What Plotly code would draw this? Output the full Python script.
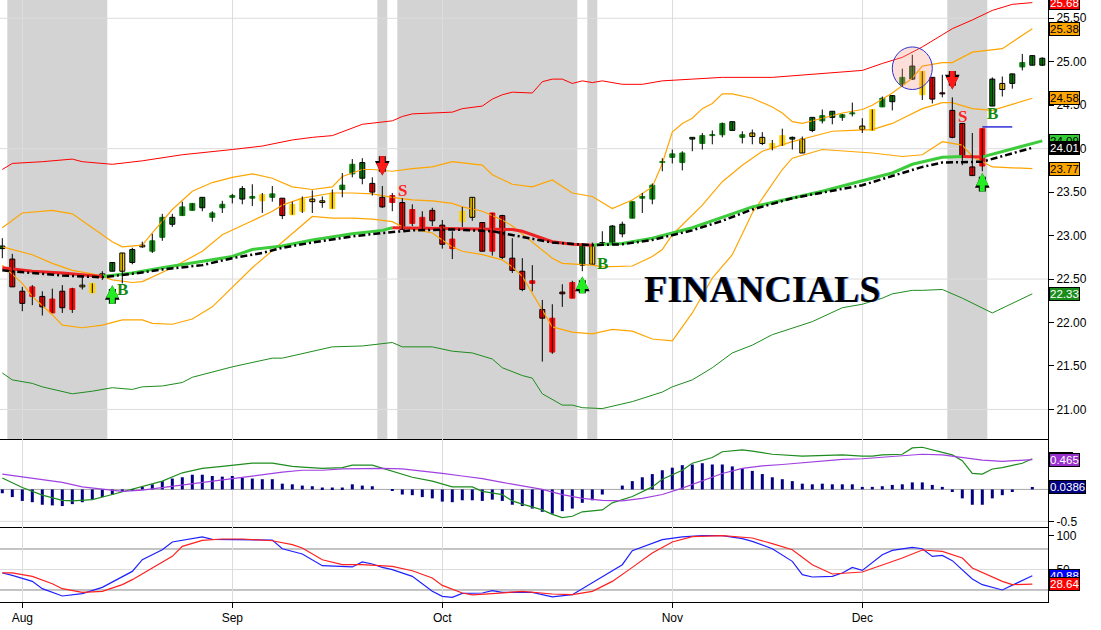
"""FINANCIALS daily chart (Plotly).

Candles with Bollinger bands, envelopes and moving averages on top,
MACD in the middle panel and a stochastic in the bottom panel.
"""
import pandas as pd
import plotly.graph_objects as go
from plotly.subplots import make_subplots

FONT = "Arial, Liberation Sans, sans-serif"
SERIF = "Times New Roman, Liberation Serif, serif"

# ---------------------------------------------------------------- data
HOLIDAYS = ["2014-09-01", "2014-11-27", "2014-12-25"]
dates = pd.bdate_range("2014-07-30", "2014-12-26", freq="C", holidays=HOLIDAYS)

opens = [22.88, 22.73, 22.36, 22.30, 22.30, 22.11, 22.36, 22.15, 22.43, 22.34,
         22.56, 22.69, 22.80, 22.84, 22.89, 22.82, 22.98, 23.21, 23.23, 23.29,
         23.44, 23.21, 23.32, 23.44, 23.54, 23.43, 23.40, 23.44, 23.43, 23.24,
         23.28, 23.42, 23.40, 23.31, 23.53, 23.71, 23.84, 23.60, 23.44, 23.38,
         23.38, 23.14, 23.08, 23.29, 23.12, 22.85, 23.16, 23.44, 23.15, 22.82,
         23.23, 22.74, 22.59, 22.45, 22.15, 21.66, 22.35, 22.28, 22.89, 22.89,
         22.92, 23.11, 23.13, 23.20, 23.43, 23.42, 23.84, 23.90, 23.84, 24.13,
         24.06, 24.15, 24.16, 24.31, 24.13, 24.18, 24.13, 24.00, 24.04, 24.13,
         24.11, 24.36, 24.32, 24.43, 24.36, 24.40, 24.26, 24.21, 24.48, 24.61,
         24.74, 24.95, 24.62, 24.82, 24.64, 24.44, 24.29, 23.79, 23.80, 24.80,
         24.75, 24.86, 24.94, 25.07, 25.04]
highs = [22.97, 22.79, 22.41, 22.43, 22.36, 22.39, 22.43, 22.40, 22.53, 22.45,
         22.59, 22.69, 22.80, 22.86, 22.93, 23.02, 23.25, 23.25, 23.39, 23.37,
         23.44, 23.28, 23.40, 23.48, 23.57, 23.59, 23.49, 23.57, 23.43, 23.39,
         23.45, 23.52, 23.45, 23.53, 23.72, 23.88, 23.89, 23.67, 23.57, 23.49,
         23.43, 23.36, 23.28, 23.32, 23.18, 23.05, 23.33, 23.44, 23.15, 23.26,
         23.24, 22.97, 22.74, 22.66, 22.26, 22.21, 22.44, 22.48, 22.91, 22.92,
         23.05, 23.12, 23.16, 23.39, 23.49, 23.60, 23.89, 23.99, 23.97, 24.13,
         24.18, 24.21, 24.30, 24.31, 24.20, 24.22, 24.19, 24.10, 24.23, 24.14,
         24.14, 24.36, 24.45, 24.43, 24.40, 24.53, 24.35, 24.45, 24.60, 24.61,
         24.92, 25.08, 24.89, 24.82, 24.85, 24.59, 24.29, 24.18, 24.23, 24.82,
         24.83, 24.86, 25.09, 25.07, 25.05]
lows = [22.74, 22.41, 22.13, 22.20, 22.08, 22.11, 22.11, 22.11, 22.38, 22.34,
        22.49, 22.59, 22.45, 22.67, 22.86, 22.80, 22.94, 23.10, 23.23, 23.29,
        23.28, 23.16, 23.26, 23.37, 23.36, 23.34, 23.26, 23.39, 23.19, 23.24,
        23.26, 23.26, 23.32, 23.31, 23.44, 23.67, 23.59, 23.46, 23.32, 23.28,
        23.07, 23.11, 23.07, 23.11, 22.85, 22.73, 23.10, 23.17, 22.82, 22.77,
        22.73, 22.57, 22.36, 22.36, 21.55, 21.64, 22.18, 22.28, 22.59, 22.67,
        22.89, 22.90, 22.98, 23.20, 23.26, 23.36, 23.74, 23.83, 23.75, 23.97,
        23.99, 24.05, 24.13, 24.21, 24.06, 24.05, 24.04, 23.98, 24.03, 23.99,
        23.95, 24.19, 24.29, 24.28, 24.32, 24.37, 24.18, 24.21, 24.48, 24.44,
        24.71, 24.79, 24.56, 24.52, 24.59, 24.12, 23.81, 23.69, 23.74, 24.49,
        24.60, 24.69, 24.90, 24.96, 24.95]
closes = [22.85, 22.41, 22.22, 22.41, 22.18, 22.27, 22.17, 22.39, 22.41, 22.45,
          22.53, 22.59, 22.59, 22.69, 22.87, 22.94, 23.21, 23.13, 23.33, 23.37,
          23.32, 23.26, 23.36, 23.46, 23.42, 23.45, 23.47, 23.48, 23.23, 23.36,
          23.42, 23.39, 23.38, 23.49, 23.58, 23.82, 23.66, 23.50, 23.33, 23.46,
          23.07, 23.30, 23.21, 23.17, 22.90, 22.96, 23.28, 23.21, 22.82, 23.26,
          22.75, 22.60, 22.38, 22.48, 22.05, 22.05, 22.33, 22.46, 22.66, 22.67,
          22.90, 22.91, 23.02, 23.39, 23.45, 23.58, 23.85, 23.94, 23.95, 24.11,
          24.15, 24.16, 24.29, 24.21, 24.16, 24.14, 24.06, 24.06, 24.15, 24.11,
          23.95, 24.21, 24.38, 24.36, 24.39, 24.41, 24.22, 24.45, 24.58, 24.54,
          24.82, 24.80, 24.89, 24.57, 24.63, 24.13, 23.91, 23.69, 24.23, 24.49,
          24.68, 24.75, 24.99, 24.96, 24.96]
# candle colour class per bar: r = red, g = green, y = yellow
candle_colors = ("grrrrrrryy" "ygygyggggg" "ggggggygry" "yyyygggrrr" "rrrrrryyrr"
                 "rrrrrrrrgy" "gggggggggg" "gggggyyyyg" "ygggggyygg" "ggyrrrrrrg"
                 "ygggg")

# upper envelope (red) and lower envelope (green)
red_env_idx = [0, 1, 4, 7, 8, 11, 14, 18, 23, 26, 29, 31, 33, 36, 39, 40, 41, 45, 46, 48,
               49, 50, 51, 53, 54, 55, 56, 57, 58, 59, 60, 62, 64, 66, 69, 72, 77, 86, 87, 88,
               90, 92, 94, 95, 97, 99, 101, 103]
red_env = [23.76, 23.83, 23.85, 23.88, 23.85, 23.82, 23.86, 23.93, 23.99, 24.03,
           24.10, 24.13, 24.15, 24.28, 24.32, 24.37, 24.40, 24.42, 24.46, 24.49,
           24.57, 24.62, 24.65, 24.64, 24.77, 24.80, 24.80, 24.75, 24.78, 24.76,
           24.78, 24.74, 24.74, 24.78, 24.80, 24.82, 24.82, 24.90, 24.94, 24.98,
           25.05, 25.17, 25.31, 25.38, 25.48, 25.59, 25.66, 25.68]
grn_env_idx = [0, 1, 3, 4, 7, 9, 11, 13, 14, 16, 18, 19, 23, 27, 28, 31, 33, 36, 38, 39,
               40, 43, 45, 47, 49, 50, 52, 53, 54, 56, 57, 58, 60, 63, 66, 67, 69, 71, 73, 75,
               77, 80, 81, 84, 86, 88, 89, 91, 92, 94, 96, 99, 101, 103]
grn_env = [21.42, 21.34, 21.30, 21.26, 21.18, 21.21, 21.25, 21.23, 21.26, 21.27,
           21.31, 21.37, 21.49, 21.59, 21.59, 21.67, 21.72, 21.73, 21.76, 21.77,
           21.72, 21.72, 21.67, 21.65, 21.58, 21.48, 21.39, 21.36, 21.18, 21.05,
           21.05, 21.02, 21.01, 21.09, 21.20, 21.26, 21.34, 21.48, 21.65, 21.74,
           21.86, 21.97, 22.01, 22.17, 22.21, 22.28, 22.33, 22.37, 22.37, 22.38,
           22.28, 22.11, 22.22, 22.33]

# Bollinger bands (orange)
bb_up_idx = [0, 2, 5, 7, 9, 11, 12, 14, 15, 17, 19, 21, 23, 25, 27, 29, 31, 33, 34, 36,
             37, 39, 41, 43, 45, 48, 49, 51, 53, 55, 57, 59, 61, 63, 65, 66, 67, 68, 69, 70,
             71, 72, 73, 75, 77, 78, 79, 80, 82, 84, 86, 87, 89, 91, 92, 94, 95, 97, 100, 103]
bb_up = [23.09, 23.26, 23.29, 23.25, 23.09, 22.93, 22.87, 22.89, 23.03, 23.30,
         23.51, 23.61, 23.67, 23.71, 23.66, 23.56, 23.53, 23.56, 23.68, 23.76,
         23.76, 23.74, 23.77, 23.79, 23.85, 23.81, 23.70, 23.59, 23.56, 23.64,
         23.49, 23.45, 23.31, 23.41, 23.56, 23.83, 24.19, 24.29, 24.35, 24.46,
         24.52, 24.63, 24.63, 24.58, 24.48, 24.41, 24.31, 24.29, 24.35, 24.41,
         24.45, 24.50, 24.64, 24.81, 24.95, 24.99, 24.99, 25.11, 25.15, 25.38]
bb_mid_idx = [0, 1, 3, 5, 7, 9, 10, 11, 13, 14, 17, 20, 22, 25, 27, 28, 30, 33, 35, 37,
              39, 41, 43, 45, 46, 48, 50, 51, 53, 55, 56, 59, 60, 63, 65, 66, 67, 69, 70, 72,
              74, 76, 79, 81, 83, 85, 87, 89, 92, 94, 95, 97, 99, 103]
bb_mid = [22.87, 22.84, 22.78, 22.68, 22.60, 22.56, 22.53, 22.49, 22.46, 22.47,
          22.63, 22.82, 23.01, 23.17, 23.28, 23.35, 23.43, 23.49, 23.49, 23.48,
          23.44, 23.41, 23.40, 23.37, 23.33, 23.28, 23.18, 23.11, 22.93, 22.74,
          22.68, 22.66, 22.64, 22.65, 22.76, 22.84, 23.01, 23.24, 23.35, 23.62,
          23.81, 23.97, 24.08, 24.14, 24.20, 24.21, 24.22, 24.29, 24.46, 24.53,
          24.53, 24.46, 24.44, 24.58]
bb_lo_idx = [0, 2, 3, 5, 6, 8, 10, 11, 12, 14, 15, 17, 19, 21, 23, 25, 31, 33, 35, 37,
             39, 40, 43, 45, 46, 48, 50, 51, 52, 54, 55, 57, 59, 61, 63, 65, 67, 69, 71, 73,
             75, 78, 79, 82, 85, 87, 90, 92, 94, 96, 97, 99, 103]
bb_lo = [22.66, 22.45, 22.30, 22.09, 21.97, 21.94, 21.97, 22.00, 22.03, 22.03,
         21.99, 21.98, 22.04, 22.18, 22.41, 22.63, 23.22, 23.20, 23.20, 23.19,
         23.16, 23.10, 23.03, 22.87, 22.82, 22.78, 22.72, 22.64, 22.53, 22.15,
         21.95, 21.89, 21.87, 21.92, 21.90, 21.81, 21.79, 22.11, 22.51, 22.78,
         23.26, 23.76, 23.89, 23.99, 23.97, 23.95, 23.91, 23.93, 24.08, 24.04,
         23.91, 23.79, 23.77]

# moving averages: thick (green rising / red falling) and black dash-dot
ma_idx = [0, 3, 6, 9, 10, 13, 16, 20, 23, 25, 28, 31, 35, 38, 39, 42, 45, 48, 51, 52,
          55, 57, 59, 60, 62, 65, 69, 72, 75, 77, 80, 82, 86, 89, 91, 94, 96, 98, 101, 104]
ma = [22.63, 22.59, 22.57, 22.54, 22.53, 22.57, 22.63, 22.70, 22.76, 22.84,
      22.88, 22.95, 23.02, 23.06, 23.09, 23.085, 23.085, 23.08, 23.07, 23.05,
      22.93, 22.90, 22.89, 22.90, 22.91, 22.97, 23.09, 23.21, 23.33, 23.38,
      23.46, 23.51, 23.63, 23.72, 23.82, 23.90, 23.91, 23.905, 24.00, 24.09]
dd_idx = [0, 3, 6, 10, 13, 16, 20, 23, 26, 28, 31, 35, 38, 41, 45, 49, 55, 59, 62, 65,
          69, 72, 75, 79, 86, 92, 94, 98, 101, 103]
dd = [22.60, 22.57, 22.54, 22.52, 22.56, 22.61, 22.66, 22.74, 22.80, 22.86,
      22.92, 22.99, 23.03, 23.06, 23.07, 23.05, 22.92, 22.89, 22.90, 22.95,
      23.06, 23.17, 23.30, 23.43, 23.58, 23.79, 23.84, 23.85, 23.95, 24.01]

# signals
shade_spans = [(1, 10), (38, 38), (40, 57), (59, 59), (95, 98)]
buy_idx = [11, 58, 98]
buy_tail = [22.20, 22.32, 23.49]
buy_head = [22.43, 22.53, 23.72]
buy_label_idx = [12, 60, 99]
buy_label_px = [22.38, 22.68, 24.41]
sell_idx = [38, 95]
sell_tail = [23.93, 24.91]
sell_head = [23.69, 24.68]
sell_label_idx = [40, 96]
sell_label_px = [23.52, 24.37]
stop_idx = [98, 101]
stop_level = 24.25
circle_idx = (89.0, 93.0)
circle_px = (24.68, 25.17)

# MACD panel
macd_hist = [-0.06, -0.12, -0.18, -0.20, -0.24, -0.25, -0.26, -0.23, -0.20, -0.16,
             -0.12, -0.08, -0.04, -0.01, 0.04, 0.08, 0.13, 0.17, 0.19, 0.23,
             0.23, 0.21, 0.20, 0.21, 0.18, 0.17, 0.16, 0.16, 0.09, 0.08,
             0.06, 0.05, 0.03, 0.03, 0.03, 0.08, 0.06, 0.05, 0.00, -0.01,
             -0.08, -0.09, -0.12, -0.14, -0.19, -0.20, -0.17, -0.17, -0.18, -0.16,
             -0.18, -0.24, -0.26, -0.30, -0.35, -0.38, -0.34, -0.30, -0.21, -0.17,
             -0.08, 0.00, 0.06, 0.13, 0.19, 0.24, 0.30, 0.34, 0.38, 0.39,
             0.41, 0.39, 0.39, 0.36, 0.33, 0.29, 0.24, 0.19, 0.16, 0.13,
             0.09, 0.08, 0.09, 0.08, 0.08, 0.08, 0.04, 0.04, 0.05, 0.07,
             0.08, 0.11, 0.11, 0.07, 0.04, -0.04, -0.14, -0.24, -0.24, -0.14,
             -0.09, -0.04, 0.00, 0.0386]
macd_idx = [0, 2, 4, 6, 7, 9, 11, 13, 16, 18, 20, 22, 23, 25, 27, 29, 30, 32, 34, 35,
            37, 38, 40, 41, 43, 45, 47, 48, 50, 51, 52, 54, 55, 56, 57, 58, 60, 61, 63, 65,
            66, 68, 69, 71, 72, 74, 75, 77, 80, 82, 84, 86, 87, 88, 90, 91, 92, 94, 95, 96,
            97, 98, 99, 100, 102, 103]
macd_line = [0.18, 0.03, -0.09, -0.17, -0.18, -0.16, -0.08, 0.00, 0.13, 0.26,
             0.33, 0.36, 0.38, 0.41, 0.41, 0.36, 0.35, 0.33, 0.34, 0.38,
             0.38, 0.33, 0.23, 0.19, 0.13, 0.04, 0.04, -0.03, -0.08, -0.18,
             -0.23, -0.32, -0.39, -0.44, -0.42, -0.35, -0.32, -0.21, -0.11, 0.04,
             0.16, 0.30, 0.41, 0.50, 0.59, 0.62, 0.60, 0.55, 0.52, 0.53,
             0.54, 0.52, 0.52, 0.54, 0.55, 0.65, 0.66, 0.58, 0.54, 0.45,
             0.25, 0.24, 0.32, 0.34, 0.41, 0.48]
sig_idx = [0, 3, 6, 8, 10, 12, 14, 16, 18, 20, 22, 24, 26, 28, 30, 32, 34, 36, 38, 40,
           42, 44, 46, 48, 50, 52, 54, 56, 58, 60, 62, 64, 66, 68, 70, 72, 74, 76, 78, 80,
           82, 84, 86, 88, 90, 92, 94, 96, 98, 100, 103]
sig_line = [0.24, 0.18, 0.11, 0.04, 0.00, -0.03, -0.01, 0.03, 0.07, 0.11,
            0.16, 0.19, 0.24, 0.27, 0.30, 0.30, 0.32, 0.33, 0.33, 0.32,
            0.29, 0.25, 0.21, 0.17, 0.11, 0.06, 0.00, -0.08, -0.14, -0.17,
            -0.18, -0.14, -0.08, 0.02, 0.13, 0.25, 0.33, 0.37, 0.39, 0.42,
            0.45, 0.47, 0.48, 0.50, 0.53, 0.55, 0.54, 0.50, 0.46, 0.44, 0.465]

# stochastic panel
k_idx = [0, 1, 3, 4, 6, 8, 10, 13, 14, 16, 17, 19, 20, 21, 23, 25, 27, 28, 30, 32,
         34, 35, 36, 37, 38, 39, 41, 42, 43, 44, 45, 46, 48, 49, 50, 53, 55, 57, 59, 61,
         62, 63, 65, 66, 68, 70, 72, 74, 75, 77, 79, 80, 81, 83, 84, 85, 86, 88, 89, 91,
         92, 93, 94, 95, 97, 98, 100, 101, 103]
stoch_k = [44.9, 41.4, 32.6, 21.9, 11.2, 14.6, 23.8, 47.2, 64.3, 79.0,
           90.2, 95.1, 97.6, 94.1, 93.6, 93.6, 93.2, 80.4, 72.7, 55.6,
           53.7, 53.7, 61.0, 58.0, 53.1, 49.7, 39.9, 28.8, 18.0, 10.6,
           9.2, 15.0, 15.6, 19.0, 16.5, 16.5, 9.8, 13.1, 30.2, 47.2,
           57.0, 77.5, 88.8, 93.6, 97.6, 99.5, 99.5, 95.1, 91.1, 80.4,
           61.9, 42.4, 39.0, 39.9, 44.9, 53.1, 48.7, 71.7, 78.0, 82.3,
           80.4, 69.2, 70.6, 62.9, 36.1, 27.8, 20.0, 26.7, 40.88]
d_idx = [0, 1, 3, 5, 6, 8, 10, 12, 13, 15, 17, 18, 20, 22, 24, 27, 29, 30, 32, 34,
         36, 39, 41, 43, 44, 46, 47, 49, 51, 52, 55, 57, 59, 61, 63, 65, 67, 69, 72, 75,
         77, 79, 81, 83, 86, 88, 90, 92, 94, 96, 97, 100, 101, 103]
stoch_d = [44.9, 44.9, 39.9, 29.2, 21.9, 16.5, 18.0, 27.8, 35.1, 52.2,
           69.2, 83.8, 92.6, 94.6, 94.6, 92.1, 86.3, 81.5, 64.3, 57.0,
           57.0, 54.5, 48.2, 37.6, 26.7, 15.6, 12.7, 14.6, 16.5, 18.0,
           14.1, 13.1, 18.0, 32.6, 53.1, 74.1, 90.2, 98.0, 99.5, 96.1,
           87.8, 79.0, 57.0, 43.4, 46.3, 56.0, 66.8, 78.5, 76.5, 66.8,
           52.2, 32.6, 27.8, 28.64]

price_grid = [21.0, 22.5, 24.0, 25.5]
title_text = "FINANCIALS"
title_at = (76, 22.38)

# ---------------------------------------------------------------- helpers
CANDLE_FILL = {"r": "#ff0000", "g": "#0b820b", "y": "#ffd200"}


def split_by_slope(xs, ys):
    """Split a polyline into runs of rising and non-rising segments."""
    runs = []
    for i in range(1, len(xs)):
        up = ys[i] > ys[i - 1]
        if runs and runs[-1][0] == up:
            runs[-1][1].append(xs[i])
            runs[-1][2].append(ys[i])
        else:
            runs.append((up, [xs[i - 1], xs[i]], [ys[i - 1], ys[i]]))
    out = {True: ([], []), False: ([], [])}
    for up, rx, ry in runs:
        out[up][0].extend(rx + [None])
        out[up][1].extend(ry + [None])
    return out


def add_line(fig, x, y, color, width=1, row=1, dash=None):
    fig.add_trace(go.Scatter(x=x, y=y, mode="lines", hoverinfo="skip",
                             line=dict(color=color, width=width, dash=dash)),
                  row=row, col=1)


def add_tag(fig, value, yref, bg, fg, text):
    fig.add_annotation(x=1, xref="paper", xanchor="left", xshift=1,
                       y=value, yref=yref, yanchor="middle", text=text,
                       showarrow=False, bgcolor=bg, bordercolor="black",
                       borderwidth=1, borderpad=0,
                       font=dict(family=FONT, size=11.5, color=fg))


def add_arrow(fig, i, tail, head, color):
    # black underlay gives the outlined look
    for w, col, sz in ((7, "black", 0.42), (5, color, 0.5)):
        fig.add_annotation(x=i, y=head, ax=i, ay=tail, xref="x", yref="y",
                           axref="x", ayref="y", text="", showarrow=True,
                           arrowhead=2, arrowsize=sz, arrowwidth=w, arrowcolor=col)


def hline(fig, y, row, color):
    fig.add_hline(y=y, row=row, col=1, line=dict(color=color, width=1),
                  layer="below", exclude_empty_subplots=False)


# ---------------------------------------------------------------- figure
n = len(closes)
xi = list(range(n))
month_idx = [i for i in range(1, n) if dates[i].month != dates[i - 1].month]
month_txt = [dates[i].strftime("%b") for i in month_idx]

fig = make_subplots(rows=3, cols=1, shared_xaxes=True, vertical_spacing=0,
                    row_heights=[439, 88, 75])

for a, b in shade_spans:
    fig.add_vrect(x0=a - 0.5, x1=b + 0.5, row=1, col=1, fillcolor="#d3d3d3",
                  opacity=1, line_width=0, layer="below", exclude_empty_subplots=False)
for lvl in price_grid:
    hline(fig, lvl, 1, "#dcdcdc")
hline(fig, -0.5, 2, "#dcdcdc")
hline(fig, 0, 2, "#a8a8a8")
hline(fig, 50, 3, "#dcdcdc")
for lvl in (20, 80):
    hline(fig, lvl, 3, "#888888")

# bands and envelopes
add_line(fig, red_env_idx, red_env, "#ff0000")
add_line(fig, grn_env_idx, grn_env, "#1e8c1e")
add_line(fig, bb_up_idx, bb_up, "#ffa500", 1.2)
add_line(fig, bb_mid_idx, bb_mid, "#ffa500", 1.2)
add_line(fig, bb_lo_idx, bb_lo, "#ffa500", 1.2)

# moving averages
parts = split_by_slope(ma_idx, ma)
add_line(fig, parts[True][0], parts[True][1], "#3ccc3c", 3)
add_line(fig, parts[False][0], parts[False][1], "#ee2222", 3)
add_line(fig, dd_idx, dd, "black", 2.5, dash="7px,3px,2px,3px")

# candles: black wicks, then coloured bodies
wx, wy = [], []
for i in xi:
    wx += [i, i, None]
    wy += [lows[i], highs[i], None]
add_line(fig, wx, wy, "black", 1)

body_base = [min(o, c) for o, c in zip(opens, closes)]
body_len = [max(abs(c - o), 0.012) for o, c in zip(opens, closes)]
fill = [CANDLE_FILL[k] for k in candle_colors]
edge = ["black" if c < o else f for o, c, f in zip(opens, closes, fill)]
fig.add_trace(go.Bar(x=xi, y=body_len, base=body_base, width=0.5, hoverinfo="skip",
                     marker=dict(color=fill, line=dict(color=edge, width=1))),
              row=1, col=1)

add_line(fig, stop_idx, [stop_level] * len(stop_idx), "#1010d0", 1.3)

fig.add_shape(type="circle", xref="x", yref="y",
              x0=circle_idx[0], x1=circle_idx[1], y0=circle_px[0], y1=circle_px[1],
              fillcolor="rgba(250,150,130,0.3)", line=dict(color="#3030d0", width=1),
              layer="above")

# MACD
fig.add_trace(go.Bar(x=list(range(len(macd_hist))), y=macd_hist, width=0.3,
                     marker=dict(color="#000080", line=dict(width=0)), hoverinfo="skip"),
              row=2, col=1)
add_line(fig, macd_idx, macd_line, "#1e8c1e", 1.2, row=2)
add_line(fig, sig_idx, sig_line, "#a040e0", 1.2, row=2)

# stochastic
add_line(fig, k_idx, stoch_k, "#2020ff", 1.2, row=3)
add_line(fig, d_idx, stoch_d, "#ff2020", 1.2, row=3)

# signals
for i, t, h in zip(buy_idx, buy_tail, buy_head):
    add_arrow(fig, i, t, h, "#22ee22")
for i, t, h in zip(sell_idx, sell_tail, sell_head):
    add_arrow(fig, i, t, h, "#ff1a1a")
for i, p in zip(buy_label_idx, buy_label_px):
    fig.add_annotation(x=i, y=p, xref="x", yref="y", text="<b>B</b>", showarrow=False,
                       font=dict(family=SERIF, size=17, color="#128a12"))
for i, p in zip(sell_label_idx, sell_label_px):
    fig.add_annotation(x=i, y=p, xref="x", yref="y", text="<b>S</b>", showarrow=False,
                       font=dict(family=SERIF, size=17, color="#ff2020"))

for shift, col in ((1, "#5a8cff"), (0, "black")):
    fig.add_annotation(x=title_at[0], y=title_at[1], xref="x", yref="y", xshift=shift,
                       text=f"<b>{title_text}</b>", showarrow=False,
                       font=dict(family=SERIF, size=38, color=col))

# last-value tags on the right
add_tag(fig, red_env[-1], "y", "#ff0000", "white", f"{red_env[-1]:.2f}")
add_tag(fig, bb_up[-1], "y", "#ffa500", "black", f"{bb_up[-1]:.2f}")
add_tag(fig, bb_mid[-1], "y", "#ffa500", "black", f"{bb_mid[-1]:.2f}")
add_tag(fig, ma[-1], "y", "#33cc33", "black", f"{ma[-1]:.2f}")
add_tag(fig, dd[-1], "y", "black", "white", f"{dd[-1]:.2f}")
add_tag(fig, bb_lo[-1], "y", "#ffa500", "black", f"{bb_lo[-1]:.2f}")
add_tag(fig, grn_env[-1], "y", "#1a8c1a", "white", f"{grn_env[-1]:.2f}")
add_tag(fig, macd_line[-1], "y2", "#1e8c1e", "white", f"{macd_line[-1]:.3g}")
add_tag(fig, sig_line[-1], "y2", "#9932cc", "white", f"{sig_line[-1]:.3g}")
add_tag(fig, macd_hist[-1], "y2", "#000080", "white", f"{macd_hist[-1]:.3g}")
add_tag(fig, stoch_k[-1], "y3", "#0000ff", "white", f"{stoch_k[-1]:.2f}")
add_tag(fig, stoch_d[-1], "y3", "#ff0000", "white", f"{stoch_d[-1]:.2f}")

# ---------------------------------------------------------------- axes
axis_font = dict(family=FONT, size=12, color="black")
fig.update_xaxes(range=[-0.23, 104.57], tickvals=month_idx, ticktext=month_txt,
                 showgrid=True, gridcolor="#dcdcdc", gridwidth=1, zeroline=False,
                 showline=True, linecolor="black", linewidth=1,
                 showticklabels=False, ticks="", rangeslider_visible=False)
fig.update_xaxes(showticklabels=True, ticks="outside", ticklen=5, tickcolor="black",
                 tickfont=axis_font, row=3, col=1)
fig.update_yaxes(side="right", showgrid=False, zeroline=False, showline=True,
                 linecolor="black", linewidth=1, ticks="outside", ticklen=5,
                 tickcolor="black", tickfont=axis_font)
fig.update_yaxes(range=[20.66, 25.71], tick0=21, dtick=0.5, tickformat=".2f", row=1, col=1)
fig.update_yaxes(range=[-0.588, 0.789], tickvals=[-0.5, 0, 0.5],
                 ticktext=["-0.5", "0", "0.5"], row=2, col=1)
fig.update_yaxes(range=[2.4, 112.2], tickvals=[50, 100], row=3, col=1)

# transparent plot area so the shaded spans (drawn below the grid) show through
fig.update_layout(width=1101, height=630, margin=dict(l=0, r=53, t=0, b=28),
                  plot_bgcolor="rgba(0,0,0,0)", paper_bgcolor="white", showlegend=False,
                  barmode="overlay", font=axis_font)

fig.write_html("out.html", config={"displayModeBar": False},
               post_script="document.body.style.margin='0';")
